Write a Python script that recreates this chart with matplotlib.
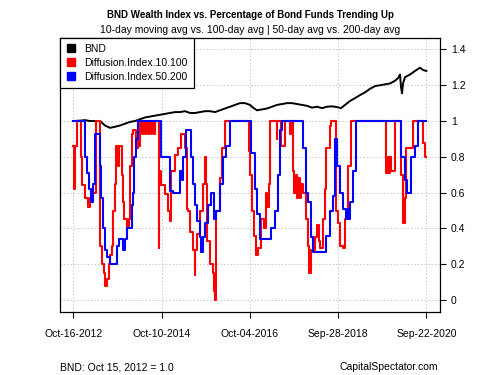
import matplotlib
matplotlib.use("Agg")
import matplotlib.pyplot as plt
from matplotlib.lines import Line2D
import datetime as dt

plt.rcParams['font.family'] = ['Liberation Sans', 'DejaVu Sans']

# ---- data (time in decimal years) ----
bnd_t = [2012.783, 2012.940, 2013.053, 2013.165, 2013.278, 2013.390, 2013.502, 2013.615,
         2013.727, 2013.839, 2013.952, 2014.064, 2014.177, 2014.289, 2014.401, 2014.514,
         2014.626, 2014.738, 2014.851, 2014.963, 2015.076, 2015.188, 2015.300, 2015.413,
         2015.525, 2015.637, 2015.750, 2015.862, 2015.975, 2016.087, 2016.199, 2016.312,
         2016.424, 2016.537, 2016.649, 2016.761, 2016.829, 2016.919, 2017.031, 2017.143,
         2017.256, 2017.368, 2017.480, 2017.593, 2017.705, 2017.818, 2017.930, 2018.042,
         2018.155, 2018.267, 2018.380, 2018.492, 2018.604, 2018.717, 2018.806, 2018.896,
         2019.009, 2019.121, 2019.234, 2019.346, 2019.458, 2019.571, 2019.683, 2019.796,
         2019.908, 2020.020, 2020.088, 2020.133, 2020.155, 2020.178, 2020.200, 2020.245,
         2020.357, 2020.470, 2020.582, 2020.649, 2020.724]
bnd_v = [1.0, 1.002, 1.005, 1.0, 1.0, 1.0, 0.975, 0.962,
         0.968, 0.975, 0.985, 0.995, 1.0, 1.01, 1.02, 1.025,
         1.03, 1.035, 1.04, 1.045, 1.05, 1.05, 1.055, 1.045,
         1.045, 1.05, 1.055, 1.055, 1.05, 1.06, 1.07, 1.08,
         1.09, 1.1, 1.1, 1.09, 1.075, 1.06, 1.065, 1.07,
         1.08, 1.09, 1.095, 1.1, 1.1, 1.095, 1.09, 1.085,
         1.075, 1.08, 1.072, 1.08, 1.082, 1.078, 1.072, 1.09,
         1.112, 1.128, 1.145, 1.16, 1.18, 1.195, 1.2, 1.205,
         1.21, 1.225, 1.24, 1.26, 1.19, 1.155, 1.21, 1.245,
         1.26, 1.28, 1.298, 1.285, 1.28]

di10_t = [2012.783, 2012.805, 2012.839, 2012.862, 2012.963, 2012.985, 2013.053, 2013.120,
          2013.165, 2013.210, 2013.300, 2013.379, 2013.401, 2013.435, 2013.480, 2013.513,
          2013.547, 2013.581, 2013.615, 2013.660, 2013.693, 2013.727, 2013.749, 2013.794,
          2013.817, 2013.884, 2013.907, 2013.929, 2013.997, 2014.042, 2014.064, 2014.098,
          2014.132, 2014.199, 2014.233, 2014.266, 2014.289, 2014.334, 2014.356, 2014.401,
          2014.424, 2014.469, 2014.491, 2014.536, 2014.559, 2014.604, 2014.626, 2014.705,
          2014.727, 2014.761, 2014.851, 2014.918, 2014.952, 2014.986, 2015.076, 2015.143,
          2015.210, 2015.300, 2015.334, 2015.368, 2015.413, 2015.480, 2015.514, 2015.536,
          2015.559, 2015.637, 2015.705, 2015.739, 2015.761, 2015.784, 2015.862, 2015.930,
          2015.952, 2015.975, 2015.997, 2016.087, 2016.121, 2016.199, 2016.728, 2016.761,
          2016.806, 2016.851, 2016.885, 2016.941, 2017.008, 2017.076, 2017.121, 2017.143,
          2017.177, 2017.211, 2017.357, 2017.379, 2017.458, 2017.548, 2017.660, 2017.683,
          2017.728, 2017.761, 2017.795, 2017.818, 2017.840, 2017.874, 2017.908, 2017.952,
          2018.020, 2018.054, 2018.087, 2018.132, 2018.222, 2018.256, 2018.301, 2018.335,
          2018.402, 2018.436, 2018.459, 2018.560, 2018.582, 2018.694, 2018.739, 2018.784,
          2018.851, 2018.896, 2018.964, 2019.031, 2019.818, 2019.863, 2019.885, 2019.908,
          2019.930, 2020.020, 2020.155, 2020.189, 2020.234, 2020.256, 2020.425, 2020.649,
          2020.694, 2020.724]
di10_v = [0.86, 0.62, 0.86, 1.0, 0.8, 0.64, 0.57, 0.52,
          0.57, 0.6, 1.0, 0.45, 0.3, 0.2, 0.15, 0.08,
          0.12, 0.2, 0.25, 0.3, 0.5, 0.65, 0.86, 0.75,
          0.86, 0.7, 0.55, 0.45, 0.4, 0.45, 0.75, 0.93,
          0.95, 0.85, 0.93, 0.86, 1.0, 0.93, 1.0, 0.93,
          1.0, 0.93, 1.0, 0.93, 1.0, 0.93, 1.0, 0.29,
          0.72, 0.64, 0.59, 0.5, 0.44, 0.72, 0.81, 0.85,
          0.93, 0.85, 0.51, 0.5, 0.38, 0.28, 0.14, 0.28,
          0.37, 0.5, 0.65, 0.8, 0.65, 0.33, 0.2, 0.15,
          0.05, 0.0, 0.5, 0.68, 0.85, 1.0, 0.83, 0.7,
          0.5, 0.36, 0.25, 0.29, 0.45, 0.4, 0.6, 0.52,
          0.65, 1.0, 0.9, 1.0, 0.86, 1.0, 0.93, 1.0,
          0.72, 0.6, 0.7, 0.57, 0.68, 0.57, 0.65, 0.6,
          0.45, 0.3, 0.15, 0.28, 0.35, 0.42, 0.33, 0.29,
          0.45, 0.62, 0.85, 0.97, 1.0, 0.5, 0.43, 0.3,
          0.29, 0.45, 0.75, 1.0, 0.71, 0.8, 0.71, 0.8,
          0.72, 1.0, 0.7, 0.43, 0.57, 0.85, 1.0, 0.88,
          0.8, 0.8]

di50_t = [2012.783, 2013.053, 2013.098, 2013.143, 2013.188, 2013.233, 2013.278, 2013.390,
          2013.412, 2013.457, 2013.502, 2013.547, 2013.615, 2013.772, 2013.817, 2013.907,
          2013.952, 2013.997, 2014.098, 2014.132, 2014.165, 2014.210, 2014.244, 2014.772,
          2014.963, 2015.031, 2015.188, 2015.222, 2015.255, 2015.323, 2015.424, 2015.480,
          2015.525, 2015.559, 2015.637, 2015.671, 2015.705, 2015.739, 2015.817, 2015.884,
          2015.952, 2015.997, 2016.087, 2016.154, 2016.222, 2016.312, 2016.784, 2016.874,
          2016.919, 2016.975, 2017.233, 2017.323, 2017.390, 2017.435, 2017.469, 2017.952,
          2018.020, 2018.065, 2018.132, 2018.188, 2018.470, 2018.560, 2018.627, 2018.672,
          2018.706, 2018.784, 2018.851, 2018.919, 2018.964, 2018.986, 2019.009, 2019.076,
          2019.132, 2020.155, 2020.245, 2020.290, 2020.380, 2020.470, 2020.537, 2020.724]
di50_v = [1.0, 0.8, 0.71, 0.62, 0.55, 0.65, 0.93, 0.75,
          0.57, 0.4, 0.28, 0.24, 0.2, 0.3, 0.34, 0.28,
          0.34, 0.4, 0.53, 0.6, 0.8, 0.9, 1.0, 0.8,
          0.61, 0.6, 0.72, 0.67, 0.8, 0.95, 0.8, 0.65,
          0.53, 0.44, 0.35, 0.27, 0.35, 0.43, 0.53, 0.6,
          0.45, 0.5, 0.65, 0.8, 0.86, 1.0, 0.82, 0.62,
          0.48, 0.34, 0.4, 0.5, 0.7, 0.95, 1.0, 0.85,
          0.6, 0.55, 0.35, 0.27, 0.36, 0.5, 0.58, 0.9,
          0.75, 0.6, 0.51, 0.45, 0.51, 0.45, 0.55, 0.72,
          1.0, 0.8, 0.67, 0.6, 0.8, 0.86, 1.0, 1.0]

tick_dates = [dt.date(2012, 10, 16), dt.date(2014, 10, 10), dt.date(2016, 10, 4),
              dt.date(2018, 9, 28), dt.date(2020, 9, 22)]
tick_labels = ["Oct-16-2012", "Oct-10-2014", "Oct-04-2016", "Sep-28-2018", "Sep-22-2020"]
y_ticks = [0, 0.2, 0.4, 0.6, 0.8, 1.0, 1.2, 1.4]
y_labels = ["0", "0.2", "0.4", "0.6", "0.8", "1", "1.2", "1.4"]


def dec_year(d):
    start = dt.date(d.year, 1, 1)
    ndays = (dt.date(d.year + 1, 1, 1) - start).days
    return d.year + (d - start).days / ndays


tick_pos = [dec_year(d) for d in tick_dates]

fig = plt.figure(figsize=(5, 3.75), dpi=100)
ax = fig.add_axes([0.12, 0.168, 0.76, 0.7307])

ax.plot(bnd_t, bnd_v, color='black', lw=1.4, zorder=3)
ax.plot(di10_t, di10_v, color='#FF0000', lw=1.5, drawstyle='steps-post', zorder=4)
ax.plot(di50_t, di50_v, color='#0000FF', lw=1.5, drawstyle='steps-post', zorder=5)

ax.set_xlim(2012.491, 2021.031)
ax.set_ylim(-0.067, 1.464)

ax.set_xticks(tick_pos)
ax.set_xticklabels(tick_labels, fontsize=7.5)
ax.yaxis.tick_right()
ax.set_yticks(y_ticks)
ax.set_yticklabels(y_labels, fontsize=7.5)
ax.tick_params(axis='x', length=4, width=0.8, pad=8)
ax.tick_params(axis='y', length=4, width=0.8, pad=4)
ax.grid(True, color='#C8C8C8', linestyle=(0, (1.5, 2)), lw=0.7)
for s in ax.spines.values():
    s.set_linewidth(0.9)
    s.set_color('black')

handles = [Line2D([], [], marker='s', color=c, ls='none', markersize=6)
           for c in ['black', '#FF0000', '#0000FF']]
leg = ax.legend(handles, ['BND', 'Diffusion.Index.10.100', 'Diffusion.Index.50.200'],
                loc='upper left', bbox_to_anchor=(0, 1), borderaxespad=0,
                fontsize=7.5, fancybox=False, framealpha=1, edgecolor='black',
                handlelength=1.0, handletextpad=0.8, labelspacing=0.4,
                borderpad=0.55)
leg.get_frame().set_linewidth(0.9)
leg.set_zorder(10)

fig.text(0.5, 1 - 15 / 375, "BND Wealth Index vs. Percentage of Bond Funds Trending Up",
         ha='center', va='center', fontsize=7.0, fontweight='bold')
fig.text(0.5, 1 - 30 / 375, "10-day moving avg vs. 100-day avg | 50-day avg vs. 200-day avg",
         ha='center', va='center', fontsize=7.5)
fig.text(0.12, 1 - 367 / 375, "BND: Oct 15, 2012 = 1.0", ha='left', va='center', fontsize=7.5)
fig.text(0.877, 1 - 367 / 375, "CapitalSpectator.com", ha='right', va='center', fontsize=7.5)

fig.savefig("out.png", dpi=100)
